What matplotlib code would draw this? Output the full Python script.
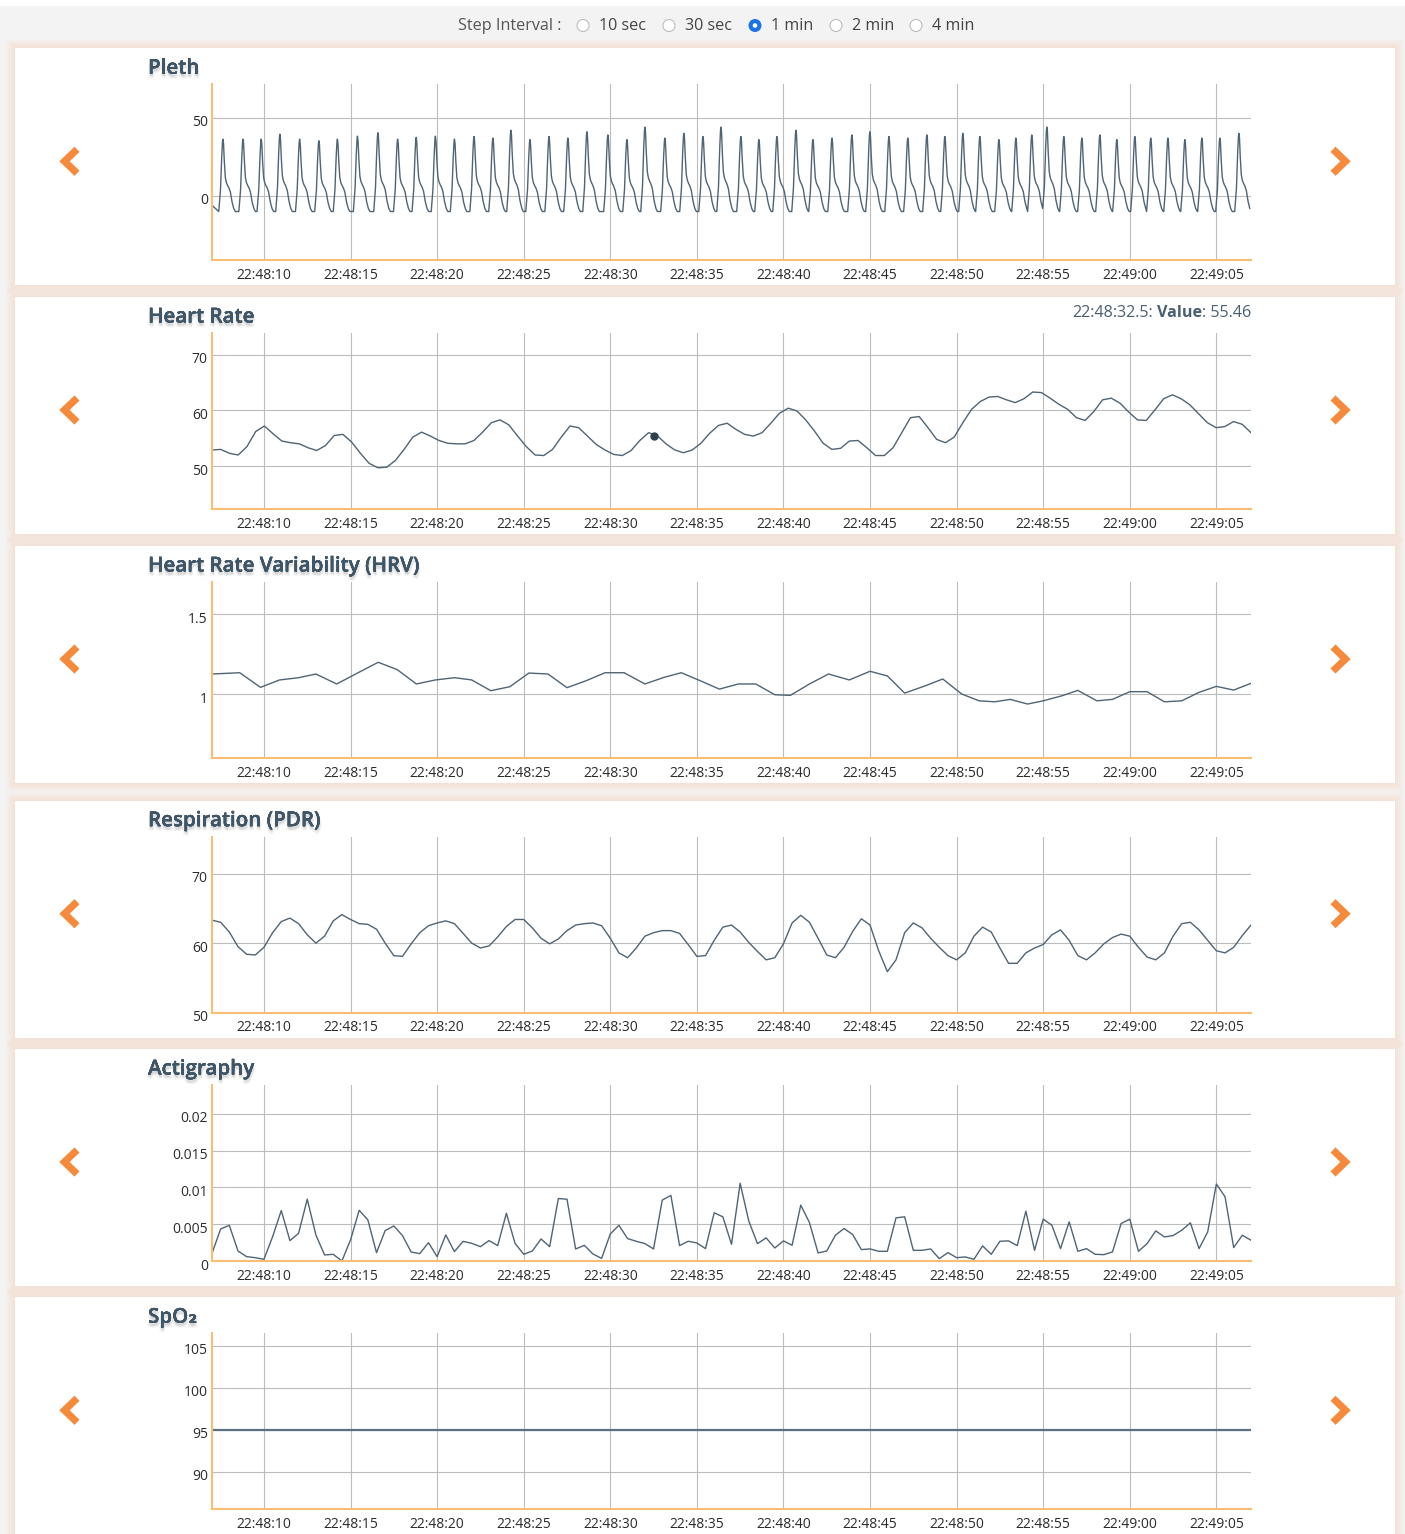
import numpy as np
import matplotlib.pyplot as plt
from matplotlib import patches, patheffects
from matplotlib.transforms import ScaledTranslation

plt.rcParams['font.family'] = ['Open Sans', 'DejaVu Sans']

# time axis in seconds after 22:48:07
x_tick_pos = [3, 8, 13, 18, 23, 28, 33, 38, 43, 48, 53, 58]
x_tick_labels = ['22:48:10', '22:48:15', '22:48:20', '22:48:25', '22:48:30', '22:48:35',
                 '22:48:40', '22:48:45', '22:48:50', '22:48:55', '22:49:00', '22:49:05']

step_options = ['10 sec', '30 sec', '1 min', '2 min', '4 min']
step_selected = '1 min'

# Pleth: beat peak times (s) and peak heights
pleth_peak_times = [0.63, 1.79, 2.84, 3.92, 5.06, 6.17, 7.24, 8.40, 9.58, 10.72, 11.79, 12.90,
                    14.0, 15.13, 16.22, 17.26, 18.36, 19.46, 20.55, 21.65, 22.86, 23.96, 25.0,
                    26.15, 27.25, 28.35, 29.39, 30.54, 31.58, 32.62, 33.72, 34.7, 35.8, 36.95,
                    37.99, 39.09, 40.18, 41.28, 42.32, 43.36, 44.34, 45.44, 46.42, 47.34, 48.21,
                    49.19, 50.23, 51.27, 52.25, 53.29, 54.21, 55.2, 56.18, 57.16, 58.2, 59.3]
pleth_peak_heights = [36.3, 36.3, 36.3, 39.5, 36.3, 35.3, 36.3, 38.2, 40.4, 36.3, 37.4, 38.2,
                      36.3, 38, 37, 42, 36, 38, 37, 41, 39, 36, 44,
                      37, 40, 38, 44, 38, 36, 38, 42, 36, 37, 39,
                      41, 38, 37, 39, 38, 40, 38, 36, 37, 39, 44,
                      38, 37, 39, 36, 38, 37, 37, 36, 37, 37, 40]
pleth_trough = -10
# one pulse around its peak: offset (s) and fraction of trough-to-peak
beat_offsets = [-0.24, -0.14, -0.07, -0.025, 0.0, 0.035, 0.08, 0.14, 0.2, 0.27, 0.34, 0.43,
                0.53, 0.63, 0.72]
beat_fracs = [0.0, 0.3, 0.75, 0.96, 1.0, 0.94, 0.7, 0.47, 0.40, 0.36, 0.33, 0.27, 0.13,
              0.04, 0.0]

# Heart rate samples
hr_values = [52.9, 53.0, 52.3, 52.0, 53.5, 56.2, 57.2, 55.8, 54.5, 54.2, 54.0, 53.3, 52.8, 53.7,
             55.5, 55.7, 54.3, 52.3, 50.5, 49.7, 49.8, 51.0, 53.0, 55.2, 56.1, 55.4, 54.6, 54.1,
             54.0, 54.0, 54.6, 56.1, 57.8, 58.3, 57.4, 55.4, 53.5, 52.0, 51.9, 53.0, 55.2, 57.2,
             56.9, 55.4, 53.9, 52.9, 52.1, 51.9, 52.8, 54.6, 56.0, 55.46, 54.0, 52.9, 52.4, 52.9,
             54.1, 55.9, 57.3, 57.7, 56.6, 55.7, 55.4, 56.0, 57.7, 59.5, 60.4, 59.9, 58.3, 56.3,
             54.1, 53.0, 53.2, 54.5, 54.6, 53.3, 51.9, 51.9, 53.3, 56.0, 58.7, 58.9, 56.9, 54.8,
             54.2, 55.2, 57.8, 60.2, 61.6, 62.4, 62.5, 61.9, 61.4, 62.1, 63.3, 63.2, 62.2, 61.1,
             60.2, 58.7, 58.2, 59.8, 61.9, 62.2, 61.3, 59.7, 58.3, 58.2, 60.1, 62.1, 62.8, 62.1,
             61.0, 59.4, 57.8, 56.9, 57.1, 58.0, 57.5, 56.0]
hr_times = np.linspace(0, 60, len(hr_values))
hover_label = '22:48:32.5'
hover_time = 25.5
hover_value = 55.46

# Heart rate variability
hrv_times = [0, 1.6, 2.8, 3.9, 5.0, 6.0, 7.2, 8.4, 9.6, 10.7, 11.8, 12.9, 14.0, 15.0, 16.1,
             17.2, 18.3, 19.4, 20.5, 21.6, 22.7, 23.8, 25.0, 26.1, 27.1, 28.2, 29.3, 30.4,
             31.4, 32.5, 33.4, 34.5, 35.6, 36.8, 38.0, 39.0, 40.0, 41.2, 42.2, 43.3, 44.3,
             45.2, 46.1, 47.1, 48.0, 49.1, 50.0, 51.1, 52.0, 53.0, 54.0, 55.0, 56.0, 57.0,
             58.0, 59.0, 60.0]
hrv_values = [1.127, 1.135, 1.044, 1.090, 1.104, 1.127, 1.065, 1.133, 1.2, 1.154, 1.065,
              1.090, 1.104, 1.090, 1.023, 1.048, 1.133, 1.127, 1.042, 1.085, 1.135, 1.135,
              1.065, 1.106, 1.135, 1.085, 1.033, 1.065, 1.065, 0.998, 0.994, 1.065, 1.127,
              1.090, 1.144, 1.115, 1.008, 1.054, 1.096, 1.002, 0.960, 0.954, 0.969, 0.940,
              0.960, 0.992, 1.025, 0.960, 0.969, 1.017, 1.017, 0.954, 0.960, 1.013, 1.050,
              1.027, 1.069]

# Respiration (PDR)
resp_values = [63.3, 63.0, 61.6, 59.5, 58.4, 58.3, 59.4, 61.5, 63.1, 63.6, 62.8, 61.2, 60.0,
               61.0, 63.2, 64.1, 63.4, 62.8, 62.7, 62.0, 60.0, 58.2, 58.1, 59.9, 61.5, 62.5,
               62.9, 63.2, 62.8, 61.4, 60.0, 59.3, 59.6, 60.9, 62.4, 63.4, 63.4, 62.2, 60.7,
               59.9, 60.6, 61.8, 62.6, 62.8, 62.9, 62.5, 60.7, 58.6, 57.9, 59.3, 61.0, 61.5,
               61.8, 61.8, 61.4, 59.8, 58.1, 58.2, 60.4, 62.3, 62.6, 61.6, 60.1, 58.8, 57.6,
               57.9, 59.9, 62.9, 64.0, 63.0, 60.7, 58.3, 57.9, 59.4, 61.7, 63.5, 62.6, 58.9,
               55.9, 57.6, 61.5, 62.9, 62.2, 60.7, 59.4, 58.2, 57.6, 58.6, 61.0, 62.3, 61.6,
               59.3, 57.1, 57.1, 58.6, 59.3, 59.8, 61.2, 61.9, 60.4, 58.2, 57.6, 58.6, 59.9,
               60.8, 61.3, 61.0, 59.4, 58.0, 57.6, 58.6, 61.0, 62.8, 63.0, 61.9, 60.4, 58.9,
               58.6, 59.4, 61.1, 62.6]
resp_times = np.linspace(0, 60, len(resp_values))

# Actigraphy samples
acti_values = [0.00104, 0.00435, 0.00485, 0.00136, 0.00059, 0.00045, 0.00023, 0.0033, 0.00685,
               0.00277, 0.00376, 0.00839, 0.00354, 0.00082, 0.00091, 0.0, 0.00286, 0.00689,
               0.00558, 0.00113, 0.00413, 0.00476, 0.00345, 0.00122, 0.001, 0.00249, 0.00059,
               0.00354, 0.00127, 0.00267, 0.0024, 0.00195, 0.00277, 0.00209, 0.00648, 0.0024,
               0.00091, 0.00136, 0.00299, 0.00195, 0.00848, 0.00839, 0.00163, 0.00213, 0.00095,
               0.00036, 0.00367, 0.00485, 0.00304, 0.00268, 0.00236, 0.00164, 0.00827, 0.00891,
               0.00209, 0.00268, 0.00245, 0.00168, 0.00655, 0.006, 0.00227, 0.01055, 0.00541,
               0.00236, 0.00314, 0.00177, 0.00273, 0.00214, 0.00759, 0.00523, 0.00109, 0.00136,
               0.0035, 0.00441, 0.00359, 0.00155, 0.00164, 0.00132, 0.00132, 0.00586, 0.006,
               0.00145, 0.00145, 0.00164, 0.00032, 0.00114, 0.00045, 0.00055, 0.00023, 0.00205,
               0.00091, 0.00268, 0.00273, 0.00209, 0.00677, 0.00145, 0.00568, 0.00486, 0.00168,
               0.00532, 0.00132, 0.00168, 0.00091, 0.00086, 0.00123, 0.00509, 0.00568, 0.00132,
               0.00236, 0.00409, 0.00327, 0.00345, 0.00418, 0.00518, 0.00168, 0.00395, 0.01045,
               0.00873, 0.00182, 0.0035, 0.00282]
acti_times = np.linspace(0, 60, len(acti_values))

# SpO2, once a second
spo2_values = [95] * 61
spo2_times = np.arange(len(spo2_values))

LINE = '#4f6475'
ORANGE = '#f68a3c'
TITLE = '#3e5668'
W, H = 1405, 1534

fig = plt.figure(figsize=(W / 100, H / 100), dpi=100)
fig.patch.set_facecolor('#f3f3f3')
bg = fig.add_axes([0, 0, 1, 1], zorder=0)
bg.set_xlim(0, W)
bg.set_ylim(H, 0)
bg.axis('off')
bg.add_patch(patches.Rectangle((0, 0), W, 6, color='white', lw=0))

# header with the step radio buttons
bg.text(458, 26.5, 'Step Interval :', fontsize=11.6, color='#555555', va='center')
radio_x = [583, 669, 755, 836, 916]
for cx, opt in zip(radio_x, step_options):
    if opt == step_selected:
        bg.add_patch(patches.Circle((cx, 25.5), 6.5, color='#1a73e8', lw=0))
        bg.add_patch(patches.Circle((cx, 25.5), 2.3, color='white', lw=0))
    else:
        bg.add_patch(patches.Circle((cx, 25.5), 6, facecolor='white', edgecolor='#bdbdbd',
                                    lw=0.8))
    bg.text(cx + 16, 26.5, opt, fontsize=11.6, color='#444444', va='center')

# soft drop shadow under the panel titles
title_fx = [patheffects.withSimplePatchShadow(offset=(dx, dy), shadow_rgbFace='#000000',
                                              alpha=a)
            for dx, dy, a in [(0, -1.5, 0.10), (1.2, -2.5, 0.06), (-1.0, -2.8, 0.05),
                              (0.5, -3.5, 0.04)]] + [patheffects.Normal()]


def card(top):
    y0, y1 = top - 36, top + 201
    for k in range(1, 10):
        bg.add_patch(patches.Rectangle((15 - k, y0 - k), 1380 + 2 * k, y1 - y0 + 2 * k,
                                       color='#f4b48a', alpha=0.033, lw=0))
    bg.add_patch(patches.Rectangle((15, y0), 1380, y1 - y0, color='white', lw=0))
    mid = top + 77
    bg.plot([77, 64.5, 77], [mid - 12, mid, mid + 12], color=ORANGE, lw=5.2,
            solid_joinstyle='miter', solid_capstyle='butt')
    bg.plot([1333, 1345.5, 1333], [mid - 12, mid, mid + 12], color=ORANGE, lw=5.2,
            solid_joinstyle='miter', solid_capstyle='butt')


def panel(top, title, ylim, yticks, ylabels):
    card(top)
    bg.text(148, top - 16, title, fontsize=14.8, weight='semibold', color=TITLE,
            va='center', path_effects=title_fx)
    ax = fig.add_axes([212 / W, 1 - (top + 176) / H, 1039 / W, 176 / H], zorder=2)
    ax.set_facecolor('none')
    ax.set_xlim(0, 60)
    ax.set_ylim(*ylim)
    ax.set_xticks(x_tick_pos, x_tick_labels)
    ax.set_yticks(yticks, ylabels)
    ax.tick_params(length=0, labelsize=10, colors='#2b2b2b')
    ax.tick_params(axis='y', pad=3)
    ax.tick_params(axis='x', pad=5.5)
    for lab in ax.get_yticklabels():
        lab.set_transform(lab.get_transform() + ScaledTranslation(0, -0.03, fig.dpi_scale_trans))
    ax.grid(True, color='#bcbcbc', lw=0.8)
    ax.set_axisbelow(True)
    for s in ('top', 'right'):
        ax.spines[s].set_visible(False)
    for s in ('left', 'bottom'):
        ax.spines[s].set_color('#fbbc74')
        ax.spines[s].set_linewidth(1.5)
    return ax


# Pleth waveform assembled beat by beat
pt, pv = [0.0], [-6.0]
for i, (tp, hp) in enumerate(zip(pleth_peak_times, pleth_peak_heights)):
    nxt = pleth_peak_times[i + 1] - 0.24 if i + 1 < len(pleth_peak_times) else 60
    for off, fr in zip(beat_offsets, beat_fracs):
        t = tp + off
        if pt[-1] < t < nxt + 0.01 and t <= 60:
            pt.append(t)
            pv.append(pleth_trough + fr * (hp - pleth_trough))

ax = panel(84.3, 'Pleth', (-41.2, 71.4), [0, 50], ['0', '50'])
ax.plot(pt, pv, color=LINE, lw=1.0)

ax = panel(333, 'Heart Rate', (42.3, 73.9), [50, 60, 70], ['50', '60', '70'])
ax.plot(hr_times, hr_values, color=LINE, lw=1.0)
ax.plot([hover_time], [hover_value], 'o', color='#2e3f4e', ms=5)

# hover readout, right-aligned to the plot edge
r = fig.canvas.get_renderer()
x = 1251
for text, weight in [(': %.2f' % hover_value, 'normal'), ('Value', 'bold'),
                     (hover_label + ':', 'normal')]:
    t = bg.text(x, 313, text, ha='right', va='center', fontsize=11.6, weight=weight,
                color='#4a6070')
    x -= t.get_window_extent(r).width
    if text == 'Value':
        x -= 4

ax = panel(582, 'Heart Rate Variability (HRV)', (0.604, 1.7), [1, 1.5], ['1', '1.5'])
ax.plot(hrv_times, hrv_values, color=LINE, lw=1.0)

ax = panel(836.7, 'Respiration (PDR)', (50, 75.3), [50, 60, 70], ['50', '60', '70'])
ax.plot(resp_times, resp_values, color=LINE, lw=1.0)

ax = panel(1085, 'Actigraphy', (0, 0.0239), [0, 0.005, 0.01, 0.015, 0.02],
           ['0', '0.005', '0.01', '0.015', '0.02'])
ax.plot(acti_times, acti_values, color=LINE, lw=1.0)

ax = panel(1333.3, 'SpO₂', (85.5, 106.5), [90, 95, 100, 105], ['90', '95', '100', '105'])
ax.plot(spo2_times, spo2_values, color='#5d7080', lw=1.6)

fig.savefig('out.png', dpi=100, facecolor=fig.get_facecolor())
